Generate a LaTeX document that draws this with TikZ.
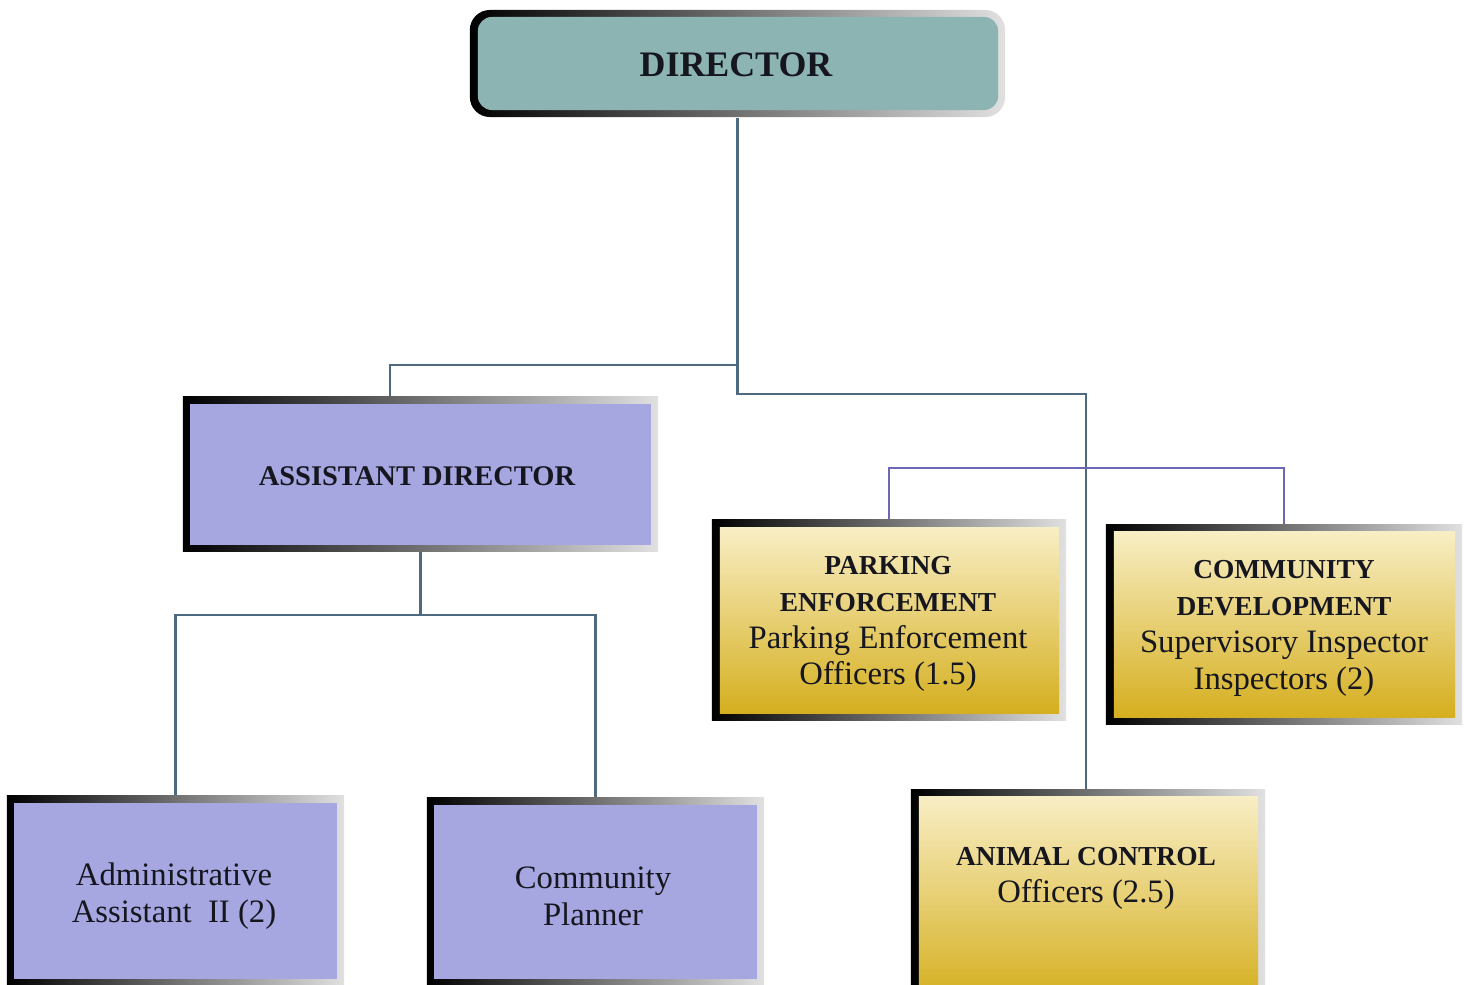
\documentclass[tikz,border=0pt]{standalone}
\usepackage{fontspec}
\setmainfont{Liberation Serif}

\definecolor{dirteal}{HTML}{8CB4B3}
\definecolor{asstblue}{HTML}{A6A6E0}
\definecolor{goldtop}{HTML}{F8EEC4}
\definecolor{goldbot}{HTML}{D5AF1F}
\definecolor{linkgray}{HTML}{4F6A7E}
\definecolor{linkpurple}{HTML}{6C68B4}
\definecolor{inkdark}{HTML}{16161F}

\newcommand{\headfont}{\bfseries\fontsize{7.8}{10.5}\selectfont}
\newcommand{\bodyfont}{\mdseries\fontsize{9.3}{10.5}\selectfont}

\tikzset{
  frame/.style={inner sep=0pt, left color=black, middle color=black!55, right color=black!12},
  tealbox/.style={inner sep=0pt, fill=dirteal, rounded corners=0.14cm},
  bluebox/.style={inner sep=0pt, fill=asstblue},
  goldbox/.style={inner sep=0pt, top color=goldtop, bottom color=goldbot},
  boxtext/.style={inner sep=0pt, text=inkdark, align=center, font=\bodyfont},
  link/.style={draw=linkgray, line width=0.6pt},
  sublink/.style={draw=linkpurple, line width=0.6pt}
}

\begin{document}
\begin{tikzpicture}[x=0.01cm, y=-0.01cm]
    \useasboundingbox (0,0) rectangle (1466,985);
    \clip (0,0) rectangle (1466,985);

    % director
    \node[frame, rounded corners=0.2cm, minimum width=5.35cm, minimum height=1.07cm]
        (dir) at (737.5,63.5) {};
    \node[tealbox, minimum width=5.20cm, minimum height=0.93cm]
        (dirf) at (738,63.5) {};
    \node[boxtext, font=\bfseries\fontsize{10.2}{11}\selectfont]
        (dirt) at (736,65) {DIRECTOR};

    % assistant director
    \node[frame, minimum width=4.75cm, minimum height=1.54cm]
        (asst) at (420.5,474) {};
    \node[bluebox, minimum width=4.61cm, minimum height=1.41cm]
        (asstf) at (420.5,474.5) {};
    \node[boxtext, font=\bfseries\fontsize{8.1}{10.5}\selectfont]
        (asstt) at (417,476) {ASSISTANT DIRECTOR};

    % parking enforcement
    \node[frame, minimum width=3.54cm, minimum height=2.00cm]
        (park) at (889,620) {};
    \node[goldbox, minimum width=3.39cm, minimum height=1.85cm]
        (parkf) at (889.5,620.5) {};
    \node[boxtext] (parkt) at (888,624)
        {\headfont PARKING\\\headfont ENFORCEMENT\\\bodyfont Parking Enforcement\\\bodyfont Officers (1.5)};

    % community development
    \node[frame, minimum width=3.56cm, minimum height=1.99cm]
        (cdev) at (1284,624.5) {};
    \node[goldbox, minimum width=3.41cm, minimum height=1.85cm]
        (cdevf) at (1284.5,624.5) {};
    \node[boxtext] (cdevt) at (1284,628.5)
        {\headfont COMMUNITY\\\headfont DEVELOPMENT\\\bodyfont Supervisory Inspector\\\bodyfont Inspectors (2)};

    % administrative assistant
    \node[frame, minimum width=3.37cm, minimum height=1.89cm]
        (admin) at (175.5,890.5) {};
    \node[bluebox, minimum width=3.23cm, minimum height=1.76cm]
        (adminf) at (175.5,891) {};
    \node[boxtext] (admint) at (174,896) {Administrative\\Assistant\ \ II (2)};

    % community planner
    \node[frame, minimum width=3.37cm, minimum height=1.87cm]
        (plan) at (595.5,891.5) {};
    \node[bluebox, minimum width=3.23cm, minimum height=1.74cm]
        (planf) at (595.5,892) {};
    \node[boxtext] (plant) at (593,896) {Community\\Planner};

    % animal control
    \node[frame, minimum width=3.54cm, minimum height=2.10cm]
        (anim) at (1088,895) {};
    \node[goldbox, minimum width=3.39cm, minimum height=2.03cm]
        (animf) at (1088.5,898.5) {};
    \node[boxtext] (animt) at (1086,878)
        {\headfont ANIMAL CONTROL\\\bodyfont Officers (2.5)};

    % connectors
    \coordinate (dj) at (737.5,365);
    \coordinate (aj) at (737.5,394);
    \coordinate (pj) at (1086,468);
    \coordinate (sj) at (420.5,615);

    \draw[link] (dir.south) -- (dj) -| ([xshift=-0.305cm]asst.north);
    \draw[link] (dj) -- (aj) -| ([xshift=-0.02cm]anim.north);
    \draw[sublink] (park.north) |- (pj) -| (cdev.north);
    \draw[link] (asst.south) -- (sj) -| (admin.north);
    \draw[link] (sj) -| (plan.north);
\end{tikzpicture}
\end{document}
